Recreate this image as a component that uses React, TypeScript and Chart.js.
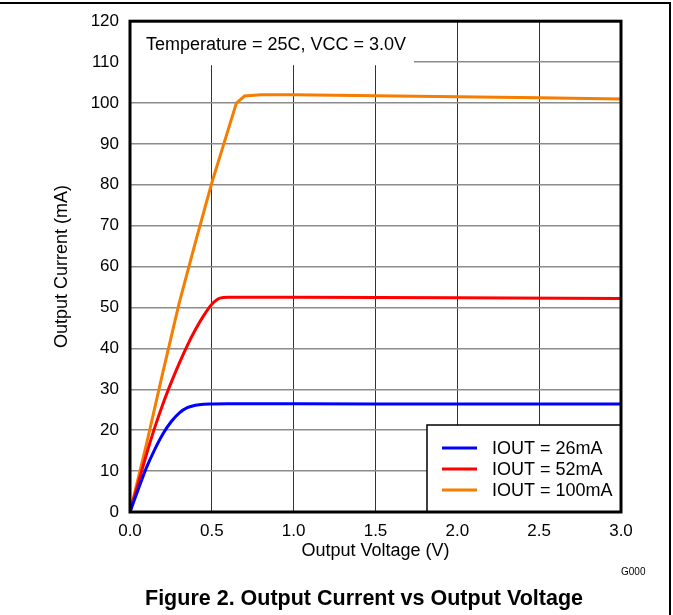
import React, { useEffect, useRef } from "react";
import { Chart, registerables } from "chart.js";

Chart.register(...registerables);

// ---- Data ----
const xTickLabels = ["0.0", "0.5", "1.0", "1.5", "2.0", "2.5", "3.0"];
const yTickLabels = ["0", "10", "20", "30", "40", "50", "60", "70", "80", "90", "100", "110", "120"];

const seriesLabels = ["IOUT = 26mA", "IOUT = 52mA", "IOUT = 100mA"];
const seriesColors = ["#0000ff", "#ff0000", "#f57d00"];

const v26 = [0, 0.05, 0.1, 0.15, 0.2, 0.25, 0.3, 0.35, 0.4, 0.45, 0.5, 0.6, 1.0, 2.0, 3.0];
const i26 = [0, 5.5, 10.8, 15.2, 19.0, 22.0, 24.2, 25.5, 26.1, 26.35, 26.4, 26.45, 26.45, 26.4, 26.4];

const v52 = [0, 0.05, 0.1, 0.15, 0.2, 0.25, 0.3, 0.35, 0.4, 0.45, 0.5, 0.55, 0.6, 1.0, 2.0, 3.0];
const i52 = [0, 7.0, 14.0, 20.5, 26.3, 31.5, 36.3, 40.7, 44.6, 48.0, 50.8, 52.3, 52.5, 52.5, 52.4, 52.2];

const v100 = [0, 0.1, 0.2, 0.3, 0.4, 0.5, 0.6, 0.65, 0.7, 0.8, 1.0, 1.5, 2.0, 2.5, 3.0];
const i100 = [0, 16.5, 34.0, 51.0, 66.0, 80.5, 93.5, 100.0, 101.7, 102.0, 102.0, 101.8, 101.5, 101.3, 101.0];

const annotationText = "Temperature = 25C, VCC = 3.0V";
const xTitle = "Output Voltage (V)";
const yTitle = "Output Current (mA)";
const figureCaption = "Figure 2. Output Current vs Output Voltage";
const figureCode = "G000";

const FONT = "'Liberation Sans', Arial, sans-serif";

function pts(xs: number[], ys: number[]) {
  return xs.map((x, i) => ({ x, y: ys[i] }));
}

const decorPlugin = {
  id: "decor",
  beforeDatasetsDraw(chart: any) {
    const { ctx, chartArea } = chart;
    const { left, top } = chartArea;
    ctx.save();
    // annotation box (white, covers grid)
    ctx.fillStyle = "#ffffff";
    ctx.fillRect(left, top, 284, 44);
    ctx.fillStyle = "#000000";
    ctx.font = `18px ${FONT}`;
    ctx.textBaseline = "alphabetic";
    ctx.textAlign = "left";
    ctx.fillText(annotationText, left + 16, top + 29);
    ctx.restore();
  },
  afterDatasetsDraw(chart: any) {
    const { ctx, chartArea } = chart;
    const { left, top, right, bottom } = chartArea;
    ctx.save();
    // legend box
    const lx = right - 194;
    const ly = bottom - 87;
    ctx.fillStyle = "#ffffff";
    ctx.fillRect(lx, ly, 194, 87);
    ctx.strokeStyle = "#000000";
    ctx.lineWidth = 1.5;
    ctx.strokeRect(lx, ly, 194, 87);
    ctx.font = `18px ${FONT}`;
    ctx.textBaseline = "middle";
    ctx.textAlign = "left";
    chart.data.datasets.forEach((ds: any, i: number) => {
      const y = ly + 23 + i * 21;
      ctx.strokeStyle = ds.borderColor;
      ctx.lineWidth = 3;
      ctx.beginPath();
      ctx.moveTo(lx + 15, y);
      ctx.lineTo(lx + 50, y);
      ctx.stroke();
      ctx.fillStyle = "#000000";
      ctx.fillText(ds.label, lx + 65, y + 1);
    });
    // plot frame
    ctx.strokeStyle = "#000000";
    ctx.lineWidth = 3;
    ctx.strokeRect(left, top, right - left, bottom - top);
    // outer figure border (top and right)
    ctx.lineWidth = 2;
    ctx.beginPath();
    ctx.moveTo(0, 3);
    ctx.lineTo(670, 3);
    ctx.lineTo(670, 615);
    ctx.stroke();
    // figure code and caption
    ctx.fillStyle = "#000000";
    ctx.font = `10px ${FONT}`;
    ctx.textAlign = "left";
    ctx.textBaseline = "middle";
    ctx.fillText(figureCode, 621, 572);
    ctx.font = `bold 21.5px ${FONT}`;
    ctx.textAlign = "center";
    ctx.fillText(figureCaption, 364, 599);
    ctx.restore();
  },
};

export default function App() {
  const ref = useRef<HTMLCanvasElement | null>(null);

  useEffect(() => {
    document.body.style.margin = "0";
    const canvas = ref.current;
    if (!canvas) return;
    const chart = new Chart(canvas, {
      type: "line",
      data: {
        datasets: [
          {
            label: seriesLabels[0],
            data: pts(v26, i26),
            borderColor: seriesColors[0],
            borderWidth: 3,
            pointRadius: 0,
            cubicInterpolationMode: "monotone",
          },
          {
            label: seriesLabels[1],
            data: pts(v52, i52),
            borderColor: seriesColors[1],
            borderWidth: 3,
            pointRadius: 0,
            cubicInterpolationMode: "monotone",
          },
          {
            label: seriesLabels[2],
            data: pts(v100, i100),
            borderColor: seriesColors[2],
            borderWidth: 3,
            pointRadius: 0,
            tension: 0,
          },
        ],
      },
      options: {
        responsive: false,
        animation: false,
        devicePixelRatio: 1,
        layout: { padding: { left: 0, right: 52, top: 21, bottom: 0 } },
        plugins: {
          legend: { display: false },
          tooltip: { enabled: false },
          title: { display: false },
        },
        scales: {
          x: {
            type: "linear",
            min: 0,
            max: 3,
            afterFit: (s: any) => {
              s.height = 103;
            },
            afterBuildTicks: (s: any) => {
              s.ticks = xTickLabels.map((t) => ({ value: parseFloat(t) }));
            },
            ticks: {
              padding: 9,
              color: "#000000",
              font: { family: FONT, size: 17 },
              maxRotation: 0,
              callback: (v: any) => {
                const i = xTickLabels.findIndex((t) => parseFloat(t) === Number(v));
                return i >= 0 ? xTickLabels[i] : "";
              },
            },
            grid: { color: "#333333", lineWidth: 1, drawTicks: false },
            border: { display: false },
            title: {
              display: true,
              text: xTitle,
              color: "#000000",
              font: { family: FONT, size: 18 },
              padding: { top: 0, bottom: 53 },
            },
          },
          y: {
            type: "linear",
            min: 0,
            max: 120,
            afterFit: (s: any) => {
              s.width = 130;
            },
            afterBuildTicks: (s: any) => {
              s.ticks = yTickLabels.map((t) => ({ value: parseFloat(t) }));
            },
            ticks: {
              padding: 11,
              color: "#000000",
              font: { family: FONT, size: 17 },
              callback: (v: any) => String(v),
            },
            grid: { color: "#8c8c8c", lineWidth: 1.5, drawTicks: false },
            border: { display: false },
            title: {
              display: true,
              text: yTitle,
              color: "#000000",
              font: { family: FONT, size: 18 },
              padding: { top: 51, bottom: 0 },
            },
          },
        },
      },
      plugins: [decorPlugin],
    });
    return () => chart.destroy();
  }, []);

  return (
    <div style={{ width: 673, height: 615, background: "#ffffff" }}>
      <canvas ref={ref} width={673} height={615} style={{ display: "block", width: 673, height: 615 }} />
    </div>
  );
}
